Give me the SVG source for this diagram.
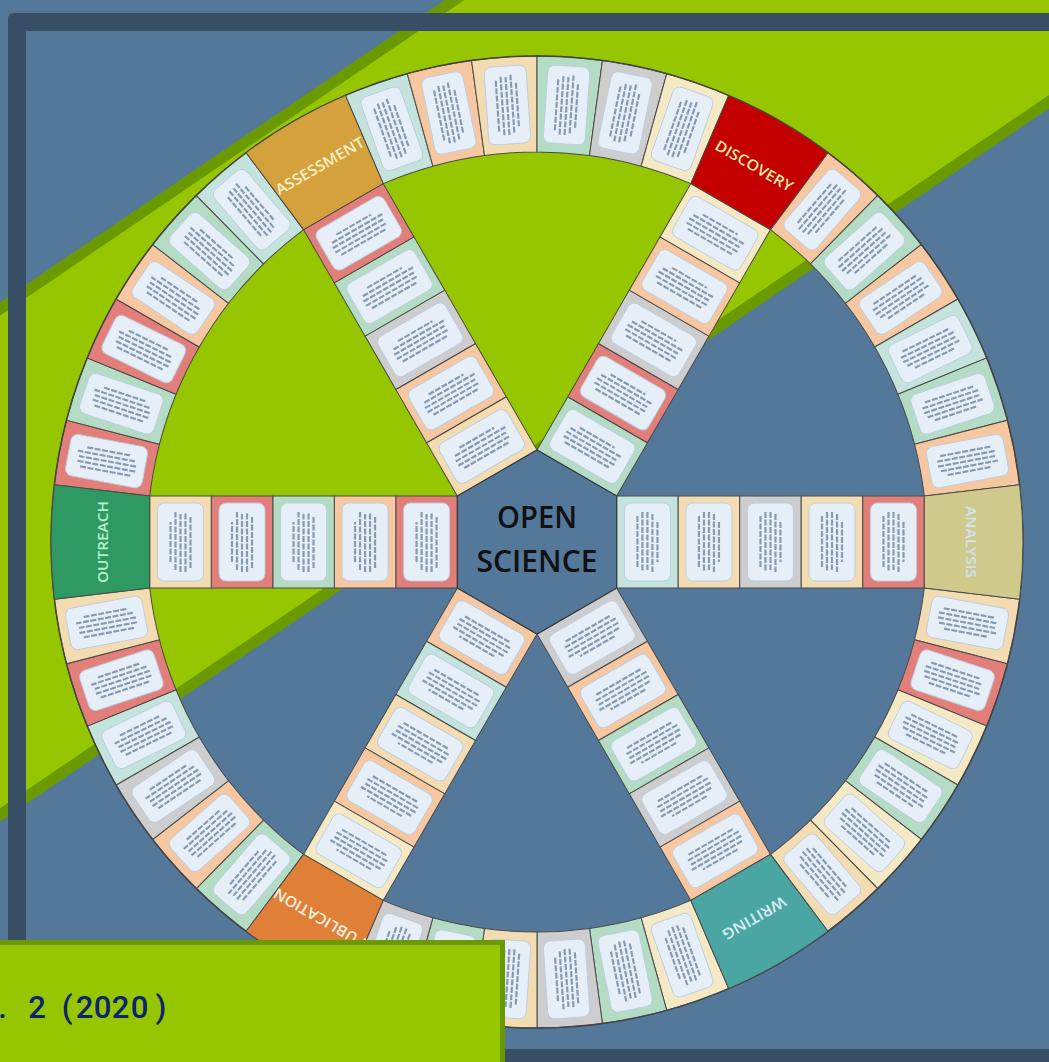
<svg xmlns="http://www.w3.org/2000/svg" xmlns:xlink="http://www.w3.org/1999/xlink" width="1049" height="1062" viewBox="0 0 1049 1062">
<style>
.tile{stroke:#4a4a4a;stroke-width:1}
.P{fill:#f6c7a1}.C{fill:#f3dcb2}.Y{fill:#f4e9c4}.M{fill:#b4dbc3}.T{fill:#c3e3dc}.G{fill:#cdcdcd}.R{fill:#e27f7b}
.cardbg{fill:#e6eff8;stroke:#b9cde0;stroke-width:0.9}
.cardln{fill:none;stroke:#6f84a0;stroke-width:2.2;stroke-dasharray:6 1.5;opacity:0.8}
.cat{font-family:"Open Sans","Liberation Sans",sans-serif;font-weight:600;font-size:15px;text-anchor:middle;dominant-baseline:central}
.ctr{font-family:"Open Sans","Liberation Sans",sans-serif;font-weight:600;font-size:30px;fill:#111;text-anchor:middle}
</style>
<defs>
<path id="rt" class="tile" d="M389.11,-26.33 L484.89,-32.82 A486,486 0 0 1 484.89,32.82 L389.11,26.33 A390,390 0 0 0 389.11,-26.33 Z"/>
<path id="ct" d="M387.28,-45.97 L482.61,-57.29 A486,486 0 0 1 482.61,57.29 L387.28,45.97 Z"/>
<g id="rc"><rect class="cardbg" x="-39" y="-21" width="78" height="42" rx="7"/><path class="cardln" d="M-26,-10H26M-30,-5H30M-30,0H28M-28,5H30M-22,10H22"/></g>
<g id="sc"><rect class="cardbg" x="-23" y="-39" width="46" height="78" rx="7"/><path class="cardln" d="M-10,-26V26M-5,-30V30M0,-30V28M5,-28V30M10,-20V20"/></g>
</defs>

<g id="background">
<rect x="0" y="0" width="1049" height="1062" fill="#54789a"/>
<polygon points="-50,343 528,-50 1100,-50 1100,67 -50,849" fill="#95c600" stroke="#6b9a00" stroke-width="11"/>
</g>

<g id="wheel" transform="translate(537,542)">
<g id="ring">
<use href="#rt" transform="rotate(10.64)" class="C"/><use href="#rt" transform="rotate(18.39)" class="R"/><use href="#rt" transform="rotate(26.13)" class="Y"/><use href="#rt" transform="rotate(33.87)" class="M"/><use href="#rt" transform="rotate(41.61)" class="Y"/><use href="#rt" transform="rotate(49.36)" class="C"/>
<use href="#rt" transform="rotate(70.64)" class="Y"/><use href="#rt" transform="rotate(78.39)" class="M"/><use href="#rt" transform="rotate(86.13)" class="G"/><use href="#rt" transform="rotate(93.87)" class="C"/><use href="#rt" transform="rotate(101.61)" class="M"/><use href="#rt" transform="rotate(109.36)" class="G"/>
<use href="#rt" transform="rotate(130.64)" class="M"/><use href="#rt" transform="rotate(138.39)" class="P"/><use href="#rt" transform="rotate(146.13)" class="G"/><use href="#rt" transform="rotate(153.87)" class="T"/><use href="#rt" transform="rotate(161.61)" class="R"/><use href="#rt" transform="rotate(169.36)" class="C"/>
<use href="#rt" transform="rotate(190.64)" class="R"/><use href="#rt" transform="rotate(198.39)" class="M"/><use href="#rt" transform="rotate(206.13)" class="R"/><use href="#rt" transform="rotate(213.87)" class="P"/><use href="#rt" transform="rotate(221.61)" class="M"/><use href="#rt" transform="rotate(229.36)" class="T"/>
<use href="#rt" transform="rotate(250.64)" class="T"/><use href="#rt" transform="rotate(258.39)" class="P"/><use href="#rt" transform="rotate(266.13)" class="C"/><use href="#rt" transform="rotate(273.87)" class="M"/><use href="#rt" transform="rotate(281.61)" class="G"/><use href="#rt" transform="rotate(289.36)" class="Y"/>
<use href="#rt" transform="rotate(310.64)" class="P"/><use href="#rt" transform="rotate(318.39)" class="M"/><use href="#rt" transform="rotate(326.13)" class="P"/><use href="#rt" transform="rotate(333.87)" class="T"/><use href="#rt" transform="rotate(341.61)" class="M"/><use href="#rt" transform="rotate(349.36)" class="P"/>
</g>
<g id="ring-cards">
<use href="#rc" transform="rotate(10.64) translate(438 0)"/><use href="#rc" transform="rotate(18.39) translate(438 0)"/><use href="#rc" transform="rotate(26.13) translate(438 0)"/><use href="#rc" transform="rotate(33.87) translate(438 0)"/><use href="#rc" transform="rotate(41.61) translate(438 0)"/><use href="#rc" transform="rotate(49.36) translate(438 0)"/>
<use href="#rc" transform="rotate(70.64) translate(438 0)"/><use href="#rc" transform="rotate(78.39) translate(438 0)"/><use href="#rc" transform="rotate(86.13) translate(438 0)"/><use href="#rc" transform="rotate(93.87) translate(438 0)"/><use href="#rc" transform="rotate(101.61) translate(438 0)"/><use href="#rc" transform="rotate(109.36) translate(438 0)"/>
<use href="#rc" transform="rotate(130.64) translate(438 0)"/><use href="#rc" transform="rotate(138.39) translate(438 0)"/><use href="#rc" transform="rotate(146.13) translate(438 0)"/><use href="#rc" transform="rotate(153.87) translate(438 0)"/><use href="#rc" transform="rotate(161.61) translate(438 0)"/><use href="#rc" transform="rotate(169.36) translate(438 0)"/>
<use href="#rc" transform="rotate(190.64) translate(438 0)"/><use href="#rc" transform="rotate(198.39) translate(438 0)"/><use href="#rc" transform="rotate(206.13) translate(438 0)"/><use href="#rc" transform="rotate(213.87) translate(438 0)"/><use href="#rc" transform="rotate(221.61) translate(438 0)"/><use href="#rc" transform="rotate(229.36) translate(438 0)"/>
<use href="#rc" transform="rotate(250.64) translate(438 0)"/><use href="#rc" transform="rotate(258.39) translate(438 0)"/><use href="#rc" transform="rotate(266.13) translate(438 0)"/><use href="#rc" transform="rotate(273.87) translate(438 0)"/><use href="#rc" transform="rotate(281.61) translate(438 0)"/><use href="#rc" transform="rotate(289.36) translate(438 0)"/>
<use href="#rc" transform="rotate(310.64) translate(438 0)"/><use href="#rc" transform="rotate(318.39) translate(438 0)"/><use href="#rc" transform="rotate(326.13) translate(438 0)"/><use href="#rc" transform="rotate(333.87) translate(438 0)"/><use href="#rc" transform="rotate(341.61) translate(438 0)"/><use href="#rc" transform="rotate(349.36) translate(438 0)"/>
</g>
<circle r="486" fill="none" stroke="#444" stroke-width="1.5"/>

<g id="spoke-analysis" transform="rotate(0)">
<rect class="tile T" x="79.67" y="-46" width="61.52" height="92"/><rect class="tile C" x="141.19" y="-46" width="61.52" height="92"/><rect class="tile G" x="202.71" y="-46" width="61.52" height="92"/><rect class="tile C" x="264.23" y="-46" width="61.52" height="92"/><rect class="tile R" x="325.75" y="-46" width="61.53" height="92"/>
<use href="#sc" x="110.43"/><use href="#sc" x="171.95"/><use href="#sc" x="233.47"/><use href="#sc" x="294.99"/><use href="#sc" x="356.51"/>
</g>
<g id="spoke-writing" transform="rotate(60)">
<rect class="tile G" x="79.67" y="-46" width="61.52" height="92"/><rect class="tile P" x="141.19" y="-46" width="61.52" height="92"/><rect class="tile M" x="202.71" y="-46" width="61.52" height="92"/><rect class="tile G" x="264.23" y="-46" width="61.52" height="92"/><rect class="tile P" x="325.75" y="-46" width="61.53" height="92"/>
<use href="#sc" x="110.43"/><use href="#sc" x="171.95"/><use href="#sc" x="233.47"/><use href="#sc" x="294.99"/><use href="#sc" x="356.51"/>
</g>
<g id="spoke-publication" transform="rotate(120)">
<rect class="tile P" x="79.67" y="-46" width="61.52" height="92"/><rect class="tile T" x="141.19" y="-46" width="61.52" height="92"/><rect class="tile C" x="202.71" y="-46" width="61.52" height="92"/><rect class="tile P" x="264.23" y="-46" width="61.52" height="92"/><rect class="tile Y" x="325.75" y="-46" width="61.53" height="92"/>
<use href="#sc" x="110.43"/><use href="#sc" x="171.95"/><use href="#sc" x="233.47"/><use href="#sc" x="294.99"/><use href="#sc" x="356.51"/>
</g>
<g id="spoke-outreach" transform="rotate(180)">
<rect class="tile R" x="79.67" y="-46" width="61.52" height="92"/><rect class="tile P" x="141.19" y="-46" width="61.52" height="92"/><rect class="tile M" x="202.71" y="-46" width="61.52" height="92"/><rect class="tile R" x="264.23" y="-46" width="61.52" height="92"/><rect class="tile C" x="325.75" y="-46" width="61.53" height="92"/>
<use href="#sc" x="110.43"/><use href="#sc" x="171.95"/><use href="#sc" x="233.47"/><use href="#sc" x="294.99"/><use href="#sc" x="356.51"/>
</g>
<g id="spoke-assessment" transform="rotate(240)">
<rect class="tile C" x="79.67" y="-46" width="61.52" height="92"/><rect class="tile P" x="141.19" y="-46" width="61.52" height="92"/><rect class="tile G" x="202.71" y="-46" width="61.52" height="92"/><rect class="tile M" x="264.23" y="-46" width="61.52" height="92"/><rect class="tile R" x="325.75" y="-46" width="61.53" height="92"/>
<use href="#sc" x="110.43"/><use href="#sc" x="171.95"/><use href="#sc" x="233.47"/><use href="#sc" x="294.99"/><use href="#sc" x="356.51"/>
</g>
<g id="spoke-discovery" transform="rotate(300)">
<rect class="tile M" x="79.67" y="-46" width="61.52" height="92"/><rect class="tile R" x="141.19" y="-46" width="61.52" height="92"/><rect class="tile G" x="202.71" y="-46" width="61.52" height="92"/><rect class="tile P" x="264.23" y="-46" width="61.52" height="92"/><rect class="tile Y" x="325.75" y="-46" width="61.53" height="92"/>
<use href="#sc" x="110.43"/><use href="#sc" x="171.95"/><use href="#sc" x="233.47"/><use href="#sc" x="294.99"/><use href="#sc" x="356.51"/>
</g>

<g id="cat-analysis"><use href="#ct" class="tile" fill="#cfca8c" transform="rotate(0)"/><text class="cat" x="435" y="0" fill="#cfe3f2" transform="rotate(90 435 0)" textLength="72" lengthAdjust="spacingAndGlyphs">ANALYSIS</text></g>
<g id="cat-writing"><use href="#ct" class="tile" fill="#4aa6a3" transform="rotate(60)"/><text class="cat" x="217.5" y="376.7" fill="#d6ecf2" transform="rotate(150 217.5 376.7)" textLength="71" lengthAdjust="spacingAndGlyphs">WRITING</text></g>
<g id="cat-publication"><use href="#ct" class="tile" fill="#e07f38" transform="rotate(120)"/><text class="cat" x="-217.5" y="376.7" fill="#fbeedd" transform="rotate(210 -217.5 376.7)" textLength="104" lengthAdjust="spacingAndGlyphs">PUBLICATION</text></g>
<g id="cat-outreach"><use href="#ct" class="tile" fill="#2e9962" transform="rotate(180)"/><text class="cat" x="-435" y="0" fill="#b8f0c8" transform="rotate(-90 -435 0)" textLength="82" lengthAdjust="spacingAndGlyphs">OUTREACH</text></g>
<g id="cat-assessment"><use href="#ct" class="tile" fill="#d4a13d" transform="rotate(240)"/><text class="cat" x="-217.5" y="-376.7" fill="#f6f0c4" transform="rotate(-30 -217.5 -376.7)" textLength="100" lengthAdjust="spacingAndGlyphs">ASSESSMENT</text></g>
<g id="cat-discovery"><use href="#ct" class="tile" fill="#c40000" transform="rotate(300)"/><text class="cat" x="217.5" y="-376.7" fill="#efe6a8" transform="rotate(30 217.5 -376.7)" textLength="87" lengthAdjust="spacingAndGlyphs">DISCOVERY</text></g>

<g id="open-science">
<polygon points="0,-92 79.67,-46 79.67,46 0,92 -79.67,46 -79.67,-46" fill="#54789a" stroke="#3a3a3a" stroke-width="1.2"/>
<text class="ctr" x="0" y="-14" textLength="80" lengthAdjust="spacingAndGlyphs">OPEN</text>
<text class="ctr" x="0" y="30" textLength="121" lengthAdjust="spacingAndGlyphs">SCIENCE</text>
</g>
</g>

<path id="frame" d="M14,13 H1100 V1075 H8 V19 Q8,13 14,13 Z M26,31 V1049 H1060 V31 Z" fill="#374e65" fill-rule="evenodd"/>

<g id="caption">
<rect x="-10" y="942.5" width="512.5" height="140" fill="#95c600" stroke="#6b9a00" stroke-width="5"/>
<text x="2.5 18 37 52 67 84.5 102.5 120.5 139.5 161" y="1018" text-anchor="middle" font-family="Roboto, 'Liberation Sans', sans-serif" font-weight="500" font-size="31" fill="#0b2470">. 2 (2020)</text>
</g>
</svg>
